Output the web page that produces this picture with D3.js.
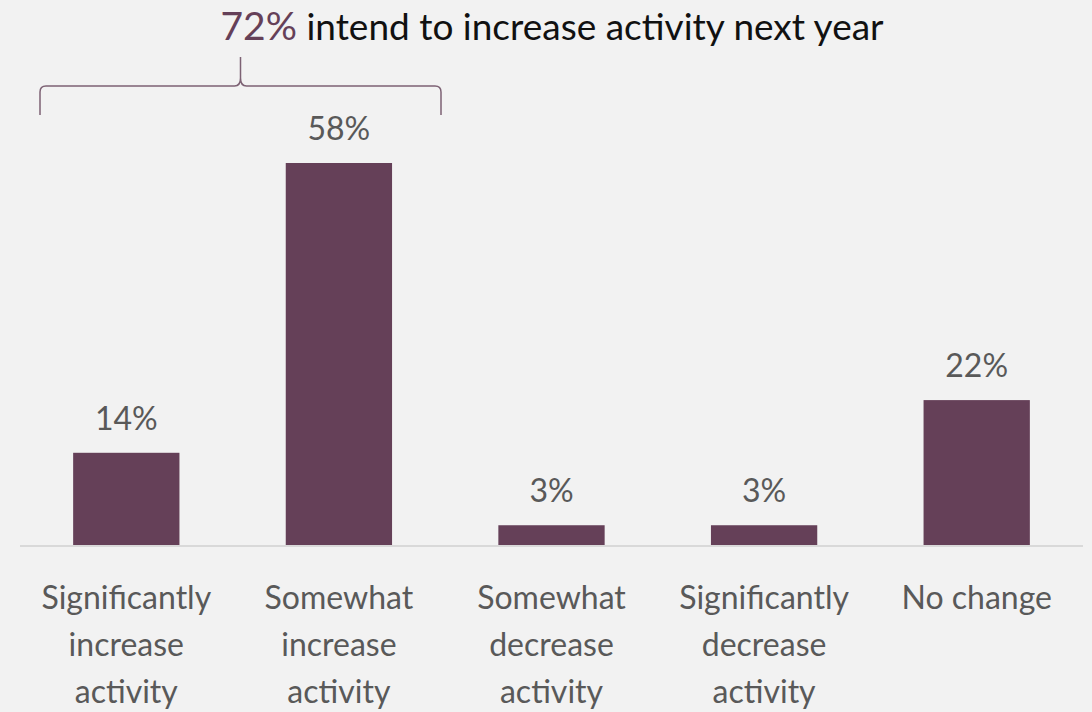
<!DOCTYPE html>
<html>
<head>
<meta charset="utf-8">
<script src="https://cdn.jsdelivr.net/npm/d3@7"></script>
<style>
  body { margin: 0; background: #f2f2f2; }
  svg { display: block; font-family: Lato, "Noto Sans", sans-serif; }
</style>
</head>
<body>
<div id="chart-area"></div>
<script>
const categories = [
    ['Significantly', 'increase', 'activity'],
    ['Somewhat', 'increase', 'activity'],
    ['Somewhat', 'decrease', 'activity'],
    ['Significantly', 'decrease', 'activity'],
    ['No change']
];
const shares = [14, 58, 3, 3, 22];
const shareLabels = ['14%', '58%', '3%', '3%', '22%'];
const titleHighlight = '72%';
const titleRest = ' intend to increase activity next year';

const width = 1092, height = 712;
const barColor = '#654058';
const textColor = '#595959';

const svg = d3.select('#chart-area').append('svg')
    .attr('width', width)
    .attr('height', height);

svg.append('rect')
    .attr('width', width)
    .attr('height', height)
    .attr('fill', '#f2f2f2');

const x = d3.scaleBand()
    .domain(d3.range(categories.length))
    .range([20, 1083])
    .paddingInner(0.5)
    .paddingOuter(0.25);

const y = d3.scaleLinear()
    .domain([0, 58])
    .range([545, 163]);

// bars
svg.selectAll('.bar')
    .data(shares)
    .join('rect')
    .attr('class', 'bar')
    .attr('x', (d, i) => x(i))
    .attr('y', d => y(d))
    .attr('width', x.bandwidth())
    .attr('height', d => y(0) - y(d))
    .attr('fill', barColor);

// baseline
svg.append('line')
    .attr('x1', 20)
    .attr('x2', 1083)
    .attr('y1', y(0) + 1)
    .attr('y2', y(0) + 1)
    .attr('stroke', '#d9d9d9')
    .attr('stroke-width', 2);

// value labels
svg.selectAll('.val')
    .data(shares)
    .join('text')
    .attr('class', 'val')
    .attr('x', (d, i) => x(i) + x.bandwidth() / 2)
    .attr('y', d => y(d) - 23)
    .attr('text-anchor', 'middle')
    .attr('font-size', 32)
    .attr('fill', textColor)
    .text((d, i) => shareLabels[i]);

// category labels
const cat = svg.selectAll('.cat')
    .data(categories)
    .join('text')
    .attr('class', 'cat')
    .attr('x', (d, i) => x(i) + x.bandwidth() / 2)
    .attr('y', 609)
    .attr('text-anchor', 'middle')
    .attr('font-size', 32)
    .attr('fill', textColor);

cat.selectAll('tspan')
    .data(d => d)
    .join('tspan')
    .attr('x', function () { return d3.select(this.parentNode).attr('x'); })
    .attr('dy', (d, i) => i === 0 ? 0 : 47)
    .text(d => d);

// bracket over the two increase bars
const bx0 = 40, bx1 = 441, bmid = (bx0 + bx1) / 2;
const bTop = 86, bBottom = 115, bPeak = 57;
const bracket = d3.path();
bracket.moveTo(bx0, bBottom);
bracket.lineTo(bx0, bTop + 6);
bracket.quadraticCurveTo(bx0, bTop, bx0 + 6, bTop);
bracket.lineTo(bmid - 6, bTop);
bracket.quadraticCurveTo(bmid, bTop, bmid, bTop - 8);
bracket.lineTo(bmid, bPeak);
bracket.moveTo(bmid, bTop - 8);
bracket.quadraticCurveTo(bmid, bTop, bmid + 6, bTop);
bracket.lineTo(bx1 - 6, bTop);
bracket.quadraticCurveTo(bx1, bTop, bx1, bTop + 6);
bracket.lineTo(bx1, bBottom);

svg.append('path')
    .attr('d', bracket.toString())
    .attr('fill', 'none')
    .attr('stroke', '#7d6274')
    .attr('stroke-width', 1.5);

// title
const title = svg.append('text')
    .attr('x', 552)
    .attr('y', 40)
    .attr('text-anchor', 'middle')
    .attr('font-size', 37);

title.append('tspan')
    .attr('fill', barColor)
    .attr('font-size', 39)
    .text(titleHighlight);
title.append('tspan')
    .attr('fill', '#111')
    .text(titleRest);
</script>
</body>
</html>
